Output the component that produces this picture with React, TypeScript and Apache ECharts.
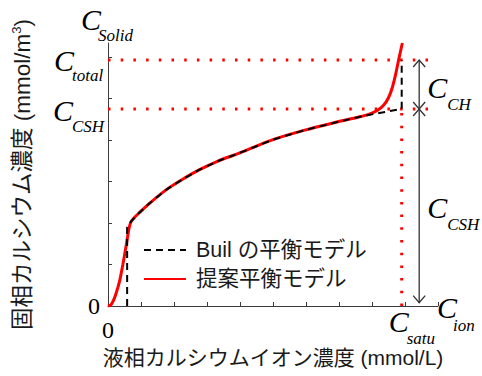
import React, { useEffect, useRef } from 'react';
import * as echarts from 'echarts';

// Axis extents (arbitrary concentration units)
const X_MAX = 10;
const Y_MAX = 6.34;

// Characteristic levels
const C_TOTAL = 5.93;
const C_CSH = 4.75;
const C_SATU = 8.9;
const ARROW_X = 9.43;

// Proposed equilibrium model (solid red)
const proposedX = [0, 0.1, 0.21, 0.3, 0.36, 0.45, 0.51, 0.57, 0.61, 0.66, 0.72, 0.95, 1.25, 1.76, 2.25, 2.76, 3.35, 3.96, 4.96, 5.96, 6.97, 7.57, 7.9, 8.17, 8.35, 8.5, 8.62, 8.72, 8.82, 8.92];
const proposedY = [0, 0.04, 0.22, 0.45, 0.63, 1.0, 1.27, 1.55, 1.75, 1.95, 2.06, 2.25, 2.47, 2.8, 3.05, 3.28, 3.5, 3.68, 4.0, 4.24, 4.44, 4.55, 4.62, 4.72, 4.84, 5.02, 5.28, 5.6, 5.98, 6.34];

// Buil equilibrium model (dashed black)
const builX = [0.58, 0.58, 0.71, 0.95, 1.25, 1.76, 2.25, 2.76, 3.35, 3.96, 4.96, 5.96, 6.97, 7.57, 7.86, 8.9, 8.9];
const builY = [0, 1.9, 2.05, 2.25, 2.47, 2.8, 3.05, 3.28, 3.5, 3.68, 4.0, 4.24, 4.44, 4.55, 4.6, 4.75, 5.93];

const xTicks = [0, 1, 2, 3, 4, 5, 6, 7, 8, 9, 10];
const yTicks = [0, 1, 2, 3, 4, 5, 6];

const SERIES_BUIL = 'Buil の平衡モデル';
const SERIES_PROPOSED = '提案平衡モデル';

const JP_FONT = '"Liberation Sans", "Noto Sans CJK JP", sans-serif';
const SERIF = '"Liberation Serif", "Times New Roman", serif';
const AXIS_COLOR = '#3c3c3c';
const RED = '#ff0000';

// Annotation anchors (data coords) with pixel offsets for "C" and its subscript
const labelAnchors: [number, number][] = [
  [0, Y_MAX],
  [0, C_TOTAL],
  [0, C_CSH],
  [ARROW_X, (C_TOTAL + C_CSH) / 2],
  [ARROW_X, C_CSH / 2],
  [X_MAX, 0],
  [C_SATU, 0],
];
const labelText = [
  { sub: 'Solid', c: [-27, -24], s: [-10, -8] },
  { sub: 'total', c: [-54, 0], s: [-36, 15] },
  { sub: 'CSH', c: [-55, 2], s: [-36, 18] },
  { sub: 'CH', c: [8, 3], s: [28, 20] },
  { sub: 'CSH', c: [8, 0], s: [28, 17] },
  { sub: 'ion', c: [-1, 1], s: [15, 19] },
  { sub: 'satu', c: [-13, 15], s: [5, 32] },
];

const toPairs = (xs: number[], ys: number[]) => xs.map((x, i) => [x, ys[i]]);

export default function App() {
  const ref = useRef<HTMLDivElement>(null);

  useEffect(() => {
    if (!ref.current) return;
    const chart = echarts.init(ref.current, null, { renderer: 'svg' });

    const dotted = (name: string, data: number[][]) => ({
      name,
      type: 'line',
      data,
      symbol: 'none',
      silent: true,
      clip: false,
      lineStyle: { color: RED, width: 3, type: [2.5, 10.2], cap: 'butt' },
      z: 1,
    });

    chart.setOption({
      animation: false,
      backgroundColor: '#ffffff',
      grid: { left: 108, right: 44, top: 43, bottom: 70, outerBoundsMode: 'none', containLabel: false },
      legend: {
        orient: 'vertical',
        left: 143,
        top: 239,
        padding: 0,
        itemWidth: 42,
        itemHeight: 14,
        itemGap: 7,
        data: [SERIES_BUIL, SERIES_PROPOSED],
        itemStyle: { opacity: 0 },
        lineStyle: { opacity: 1 },
        textStyle: { fontSize: 21.5, fontFamily: JP_FONT, color: '#1a1a1a', lineHeight: 22, padding: [0, 0, 0, 5] },
      },
      xAxis: {
        type: 'value',
        min: 0,
        max: X_MAX,
        interval: 1,
        name: '液相カルシウムイオン濃度 (mmol/L)',
        nameLocation: 'middle',
        nameGap: 41,
        nameTextStyle: { fontSize: 21, fontFamily: JP_FONT, color: '#1a1a1a' },
        axisLine: { show: true, lineStyle: { color: AXIS_COLOR, width: 1 } },
        axisTick: { show: true, inside: true, length: 4, customValues: xTicks, lineStyle: { color: AXIS_COLOR } },
        axisLabel: { customValues: [0], margin: 12, fontSize: 24, fontFamily: SERIF, color: '#000' },
        splitLine: { show: false },
      },
      yAxis: {
        type: 'value',
        min: 0,
        max: Y_MAX,
        name: '{a|固相カルシウム濃度 (mmol/m}{sup|3}{a|)}',
        nameLocation: 'middle',
        nameRotate: 90,
        nameGap: 73,
        nameTextStyle: {
          rich: {
            a: { fontSize: 22.5, fontFamily: JP_FONT, color: '#1a1a1a', lineHeight: 25 },
            sup: { fontSize: 13, fontFamily: JP_FONT, color: '#1a1a1a', lineHeight: 15, verticalAlign: 'top' },
          },
        },
        axisLine: { show: true, lineStyle: { color: AXIS_COLOR, width: 1 } },
        axisTick: { show: true, inside: true, length: 4, customValues: yTicks, lineStyle: { color: AXIS_COLOR } },
        axisLabel: { customValues: [0], margin: 8, fontSize: 24, fontFamily: SERIF, color: '#000' },
        splitLine: { show: false },
      },
      series: [
        dotted('C_total level', [[0, C_TOTAL], [X_MAX, C_TOTAL]]),
        dotted('C_CSH level', [[0, C_CSH], [X_MAX, C_CSH]]),
        dotted('C_satu level', [[C_SATU, 0], [C_SATU, C_CSH]]),
        {
          name: SERIES_PROPOSED,
          type: 'line',
          data: toPairs(proposedX, proposedY),
          symbol: 'none',
          smooth: 0.3,
          clip: false,
          color: RED,
          lineStyle: { color: RED, width: 3 },
          z: 3,
        },
        {
          name: SERIES_BUIL,
          type: 'line',
          data: toPairs(builX, builY),
          symbol: 'none',
          clip: false,
          color: '#000',
          lineStyle: { color: '#000', width: 2, type: [7, 5] },
          z: 4,
        },
        {
          name: 'level arrows',
          type: 'custom',
          silent: true,
          clip: false,
          z: 5,
          data: [
            [ARROW_X, C_TOTAL, C_CSH],
            [ARROW_X, C_CSH, 0.08],
          ],
          renderItem: (_params: any, api: any) => {
            const x = api.value(0);
            const p1 = api.coord([x, api.value(1)]);
            const p2 = api.coord([x, api.value(2)]);
            const w = 6;
            const h = 7;
            const style = { stroke: '#333', lineWidth: 1.3, fill: 'none' };
            return {
              type: 'group',
              children: [
                { type: 'line', shape: { x1: p1[0], y1: p1[1], x2: p2[0], y2: p2[1] }, style },
                { type: 'polyline', shape: { points: [[p1[0] - w, p1[1] + h], [p1[0], p1[1]], [p1[0] + w, p1[1] + h]] }, style },
                { type: 'polyline', shape: { points: [[p2[0] - w, p2[1] - h], [p2[0], p2[1]], [p2[0] + w, p2[1] - h]] }, style },
              ],
            };
          },
        },
        {
          name: 'level labels',
          type: 'custom',
          silent: true,
          clip: false,
          z: 6,
          data: labelAnchors,
          renderItem: (params: any, api: any) => {
            const p = api.coord([api.value(0), api.value(1)]);
            const t = labelText[params.dataIndex];
            return {
              type: 'group',
              children: [
                {
                  type: 'text',
                  x: p[0] + t.c[0],
                  y: p[1] + t.c[1],
                  style: { text: 'C', font: `italic 30px ${SERIF}`, fill: '#000', align: 'left', verticalAlign: 'middle' },
                },
                {
                  type: 'text',
                  x: p[0] + t.s[0],
                  y: p[1] + t.s[1],
                  style: { text: t.sub, font: `italic 17px ${SERIF}`, fill: '#000', align: 'left', verticalAlign: 'middle' },
                },
              ],
            };
          },
        },
      ],
    });

    return () => chart.dispose();
  }, []);

  return (
    <div
      ref={ref}
      style={{ position: 'absolute', left: 0, top: 0, width: 482, height: 376, background: '#fff' }}
    />
  );
}
